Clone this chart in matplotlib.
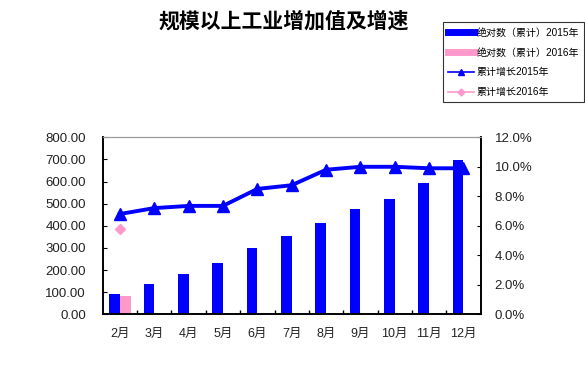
import matplotlib
matplotlib.use("Agg")
import matplotlib.pyplot as plt
from matplotlib.lines import Line2D
from matplotlib.ticker import FuncFormatter, FixedLocator
import numpy as np

plt.rcParams['font.family'] = ['Liberation Sans', 'Noto Sans CJK SC', 'DejaVu Sans']

months = ["2月", "3月", "4月", "5月", "6月", "7月", "8月", "9月", "10月", "11月", "12月"]
abs_2015 = [91, 139, 184, 234, 299, 355, 413, 476, 521, 594, 697]
abs_2016 = [85]
growth_2015 = [6.8, 7.2, 7.35, 7.35, 8.5, 8.75, 9.8, 10.0, 10.0, 9.9, 9.9]
growth_2016 = [5.8]

legend_labels = ["绝对数（累计）2015年", "绝对数（累计）2016年", "累计增长2015年", "累计增长2016年"]
title = "规模以上工业增加值及增速"

blue = "#0000FF"
pink = "#FF99CC"

fig = plt.figure(figsize=(5.85, 3.74), dpi=100)
ax = fig.add_axes([0.1756, 0.1596, 0.646, 0.4733])
ax2 = ax.twinx()

x = np.arange(len(months))
bw = 0.31
ax.bar(x - bw / 2, abs_2015, width=bw, color=blue, zorder=2)
ax.bar(np.arange(len(abs_2016)) + bw / 2, abs_2016, width=bw, color=pink, zorder=2)

ax2.plot(x, growth_2015, color=blue, lw=2.8, marker="^", markersize=8, zorder=3)
ax2.plot(np.arange(len(growth_2016)), growth_2016, color=pink, lw=2.5, marker="D",
         markersize=5.5, linestyle="none", zorder=3)

ax.set_xlim(-0.5, len(months) - 0.5)
ax.set_ylim(0, 800)
ax2.set_ylim(0, 12)
ax.set_yticks(np.arange(0, 801, 100))
ax.yaxis.set_major_formatter(FuncFormatter(lambda v, p: f"{v:.2f}"))
ax2.set_yticks(np.arange(0, 12.1, 2))
ax2.yaxis.set_major_formatter(FuncFormatter(lambda v, p: f"{v:.1f}%"))

ax.set_xticks(x)
ax.set_xticklabels(months)
ax.tick_params(axis="x", length=0, pad=10, labelsize=9)
ax.xaxis.set_minor_locator(FixedLocator(np.arange(0.5, len(months) - 1, 1)))
ax.tick_params(axis="x", which="minor", direction="in", length=3, width=1)
ax.tick_params(axis="y", direction="in", length=3, labelsize=9.5, pad=12)
ax2.tick_params(axis="y", direction="in", length=3, labelsize=9.5, pad=10)
for t in ax.get_yticklabels() + ax2.get_yticklabels() + ax.get_xticklabels():
    t.set_color("#222222")

for a in (ax, ax2):
    a.spines["top"].set_color("#999999")
    a.spines["top"].set_linestyle((0, (1, 1)))
    for s in ("left", "right", "bottom"):
        a.spines[s].set_color("black")
        a.spines[s].set_linewidth(1.2)

fig.text(0.485, 0.945, title, ha="center", va="center", fontsize=15, fontweight="bold",
         family=['Noto Sans CJK SC', 'DejaVu Sans'])

handles = [
    Line2D([0], [0], color=blue, lw=5),
    Line2D([0], [0], color=pink, lw=5),
    Line2D([0], [0], color=blue, lw=1.2, marker="^", markersize=5),
    Line2D([0], [0], color=pink, lw=1.2, marker="D", markersize=3.5),
]
leg = fig.legend(handles, legend_labels, loc="upper left", bbox_to_anchor=(0.757, 0.94),
                 fontsize=7.2, frameon=True, fancybox=False, handlelength=2.6,
                 borderpad=0.5, labelspacing=1.0, handletextpad=0.3, borderaxespad=0)
leg.get_frame().set_edgecolor("black")
leg.get_frame().set_linewidth(0.8)

fig.savefig("out.png", dpi=100)
